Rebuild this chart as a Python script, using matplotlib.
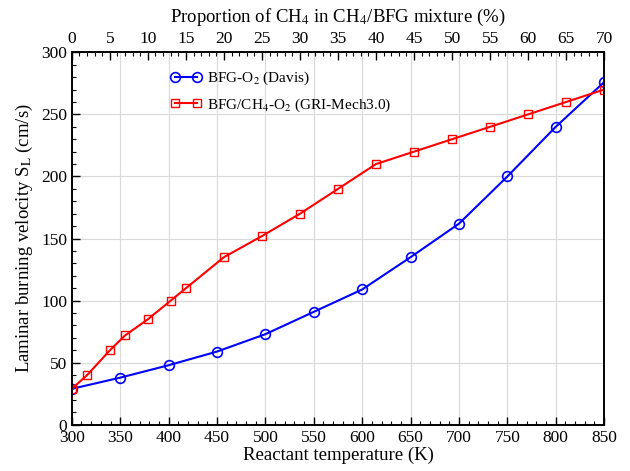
import matplotlib
matplotlib.use("Agg")
import matplotlib.pyplot as plt
from matplotlib.ticker import MultipleLocator

# BFG-O2 (Davis), plotted against reactant temperature (bottom axis)
temp_k = [300, 350, 400, 450, 500, 550, 600, 650, 700, 750, 800, 850]
sl_davis = [29, 38, 48, 59, 73, 91, 109, 135, 162, 200, 240, 276]

# BFG/CH4-O2 (GRI-Mech3.0), plotted against CH4 proportion (top axis)
ch4_pct = [0, 2, 5, 7, 10, 13, 15, 20, 25, 30, 35, 40, 45, 50, 55, 60, 65, 70]
sl_gri = [29, 40, 60, 72, 85, 100, 110, 135, 152, 170, 190, 210, 220, 230, 240, 250, 260, 270]

plt.rcParams["font.family"] = ["Liberation Serif", "DejaVu Serif"]
plt.rcParams["mathtext.fontset"] = "stix"

fig = plt.figure(figsize=(6.3, 4.71), dpi=100)
ax = fig.add_axes([0.114, 0.098, 0.845, 0.791])
ax2 = ax.twiny()

ax.plot(temp_k, sl_davis, "-o", color="#0000ff", lw=1.5, ms=7, mfc="none", mew=1.2,
        label="BFG-O$_2$ (Davis)")
ax2.plot(ch4_pct, sl_gri, "-s", color="#ff0000", lw=1.5, ms=6, mfc="none", mew=1.0,
         label="BFG/CH$_4$-O$_2$ (GRI-Mech3.0)")

ax.set_xlim(300, 850)
ax.set_ylim(0, 300)
ax2.set_xlim(0, 70)

ax.xaxis.set_major_locator(MultipleLocator(50))
ax.xaxis.set_minor_locator(MultipleLocator(10))
ax.yaxis.set_major_locator(MultipleLocator(50))
ax.yaxis.set_minor_locator(MultipleLocator(10))
ax2.xaxis.set_major_locator(MultipleLocator(5))
ax2.xaxis.set_minor_locator(MultipleLocator(1))

ax.tick_params(which="both", direction="in", labelsize=12.5, right=False)
ax.tick_params(which="major", length=6, width=1)
ax.tick_params(which="minor", length=3, width=0.8)
ax2.tick_params(which="both", direction="in", labelsize=12.5)
ax2.tick_params(which="major", length=6, width=1)
ax2.tick_params(which="minor", length=3, width=0.8)

ax.grid(True, color="0.85", lw=0.8)
for a in (ax, ax2):
    for s in a.spines.values():
        s.set_linewidth(1.2)

ax.set_xlabel("Reactant temperature (K)", fontsize=13.5, labelpad=1)
ax.set_ylabel("Laminar burning velocity S$_\\mathrm{L}$ (cm/s)", fontsize=13.5, labelpad=4)
ax2.set_xlabel("Proportion of CH$_4$ in CH$_4$/BFG mixture (%)", fontsize=13.5, labelpad=7)

h1, l1 = ax.get_legend_handles_labels()
h2, l2 = ax2.get_legend_handles_labels()
ax2.legend(h1 + h2, l1 + l2, loc="upper left", bbox_to_anchor=(0.16, 0.99), frameon=False,
           fontsize=11, numpoints=2, handlelength=2.0, handletextpad=0.4, labelspacing=0.6)

fig.savefig("out.png", dpi=100)
